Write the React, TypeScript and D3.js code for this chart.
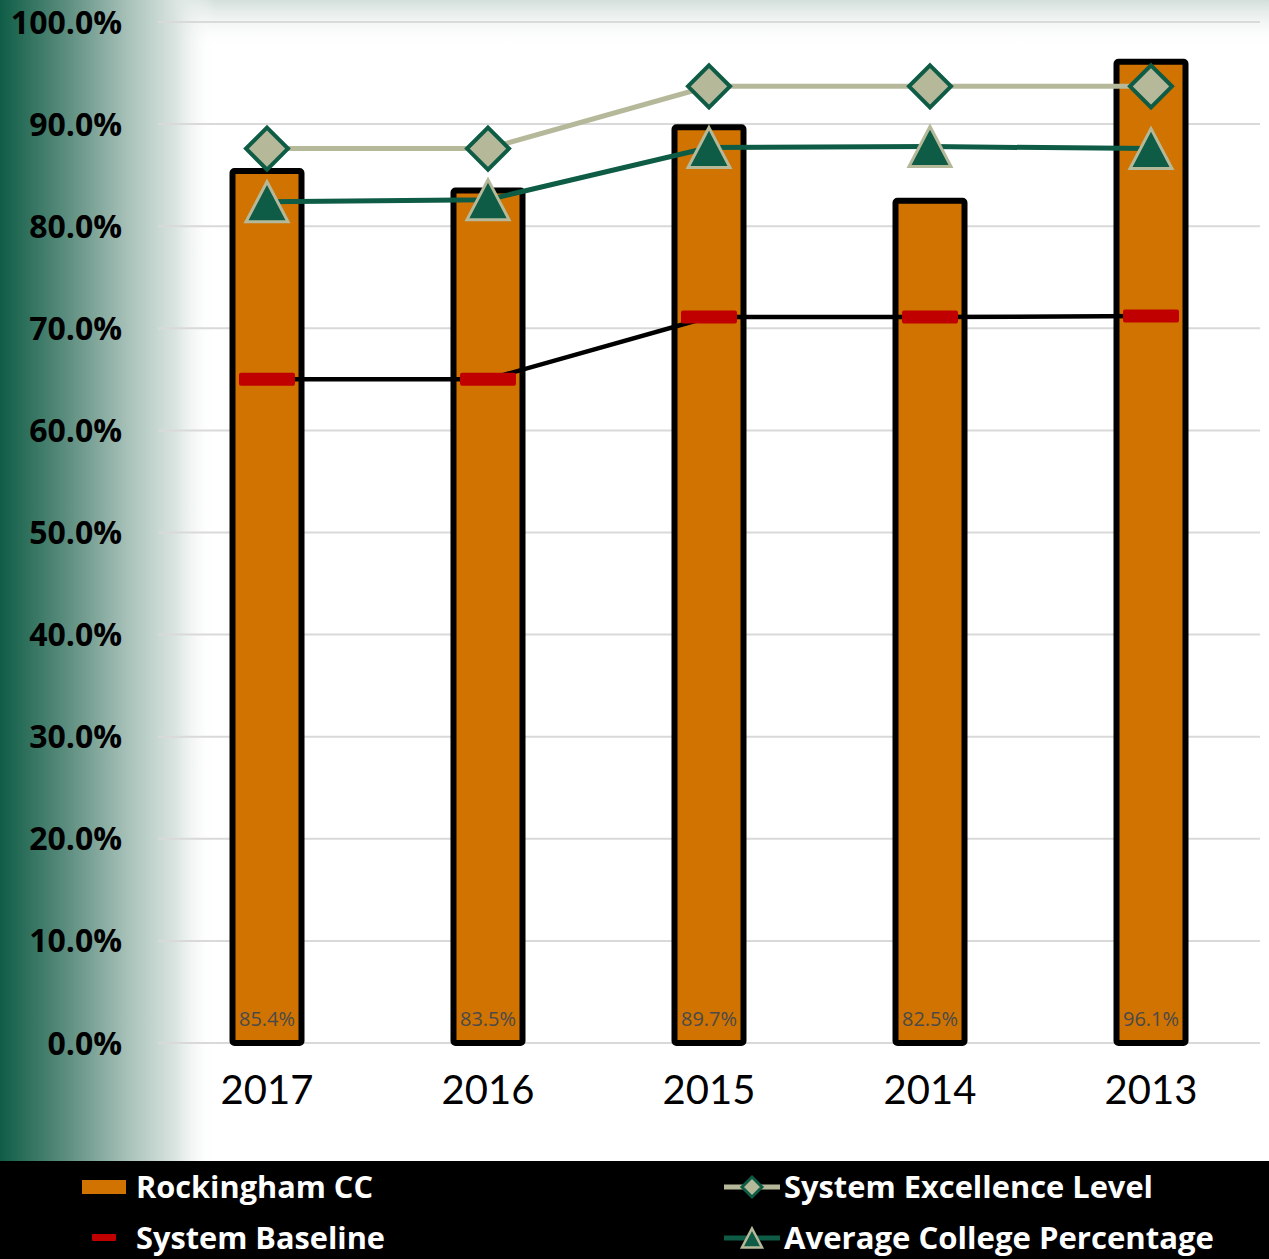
import React from "react";
import * as d3 from "d3";

const years = ["2017", "2016", "2015", "2014", "2013"];
const rockingham = [0.854, 0.835, 0.897, 0.825, 0.961];
const excellence = [0.876, 0.876, 0.937, 0.937, 0.937];
const baseline = [0.65, 0.65, 0.711, 0.711, 0.712];
const average = [0.824, 0.826, 0.877, 0.878, 0.876];
const yTicks = [0, 0.1, 0.2, 0.3, 0.4, 0.5, 0.6, 0.7, 0.8, 0.9, 1.0];

const W = 1269;
const H = 1259;
const GREEN = "#0e5c45";
const SAGE = "#b5b99a";
const ORANGE = "#d07300";
const RED = "#c00000";
const FONT = "'Open Sans', 'Noto Sans', sans-serif";

export default function App() {
  const y = d3.scaleLinear().domain([0, 1]).range([1043, 22]);
  const pi = 1 - 69 / 221;
  const x = d3.scaleBand<string>().domain(years).range([156.5, 1261.5]).paddingInner(pi).paddingOuter(pi / 2);
  const bw = x.bandwidth();
  const cx = (c: string) => (x(c) as number) + bw / 2;
  const fmt = d3.format(".1%");
  const lineGen = (vals: number[]) =>
    d3.line<number>().x((_, i) => cx(years[i])).y((v) => y(v))(vals) as string;

  const diamond = (px: number, py: number, r: number) =>
    `M${px},${py - r}L${px + r},${py}L${px},${py + r}L${px - r},${py}Z`;
  const tri = (px: number, py: number, w: number, h: number) =>
    `M${px},${py - h / 2}L${px + w / 2},${py + h / 2}L${px - w / 2},${py + h / 2}Z`;

  return (
    <svg width={W} height={H} style={{ position: "absolute", left: 0, top: 0, display: "block" }} fontFamily={FONT}>
      <defs>
        <linearGradient id="leftg" x1="0" x2="1" y1="0" y2="0">
          <stop offset="0" stopColor="#0f5d46" />
          <stop offset="0.3" stopColor="#5a8c7d" />
          <stop offset="0.6" stopColor="#a9c2ba" />
          <stop offset="0.82" stopColor="#dbe5e2" />
          <stop offset="1" stopColor="#ffffff" stopOpacity="0" />
        </linearGradient>
        <linearGradient id="topg" x1="0" x2="0" y1="0" y2="1">
          <stop offset="0" stopColor="#d3dfdb" />
          <stop offset="1" stopColor="#ffffff" stopOpacity="0" />
        </linearGradient>
      </defs>
      <rect x={0} y={0} width={W} height={1161} fill="#ffffff" />
      <rect x={0} y={0} width={W} height={48} fill="url(#topg)" />
      <rect x={0} y={0} width={215} height={1161} fill="url(#leftg)" />

      {/* gridlines */}
      {yTicks.map((t) => (
        <line key={t} x1={158} x2={1260} y1={y(t)} y2={y(t)} stroke="#d9d9d9" strokeWidth={2} />
      ))}
      {/* y labels */}
      {yTicks.map((t) => (
        <text key={"l" + t} x={122} y={y(t)} dy="0.36em" textAnchor="end" fontSize={32} fontWeight={700} fill="#000">
          {fmt(t)}
        </text>
      ))}

      {/* bars */}
      {years.map((c, i) => (
        <rect
          key={c}
          x={x(c)}
          y={y(rockingham[i])}
          width={bw}
          height={y(0) - y(rockingham[i])}
          fill={ORANGE}
          stroke="#000"
          strokeWidth={6}
          rx={2}
        />
      ))}
      {/* value labels */}
      {years.map((c, i) => (
        <text key={"v" + c} x={cx(c)} y={1026} textAnchor="middle" fontSize={20} fill="#4a4a4a">
          {fmt(rockingham[i])}
        </text>
      ))}

      {/* excellence line */}
      <path d={lineGen(excellence)} fill="none" stroke={SAGE} strokeWidth={5} />
      {years.map((c, i) => (
        <path key={"e" + c} d={diamond(cx(c), y(excellence[i]), 21)} fill={SAGE} stroke={GREEN} strokeWidth={4} strokeLinejoin="miter" />
      ))}

      {/* baseline */}
      <path d={lineGen(baseline)} fill="none" stroke="#000" strokeWidth={4.5} />
      {years.map((c, i) => (
        <rect key={"b" + c} x={cx(c) - 28} y={y(baseline[i]) - 6.5} width={56} height={13} rx={2} fill={RED} />
      ))}

      {/* average */}
      <path d={lineGen(average)} fill="none" stroke={GREEN} strokeWidth={5} />
      {years.map((c, i) => (
        <path key={"a" + c} d={tri(cx(c), y(average[i]), 42, 40)} fill={GREEN} stroke={SAGE} strokeWidth={3} strokeLinejoin="miter" />
      ))}

      {/* x labels */}
      {years.map((c) => (
        <text key={"x" + c} x={cx(c)} y={1104} textAnchor="middle" fontSize={40} fill="#000" fontFamily="Lato, sans-serif">
          {c}
        </text>
      ))}

      {/* legend */}
      <rect x={0} y={1161} width={W} height={98} fill="#000" />
      <rect x={82} y={1180} width={44} height={14} fill={ORANGE} />
      <text x={136} y={1198} fontSize={30} fontWeight={700} fill="#fff" textLength={237} lengthAdjust="spacingAndGlyphs">
        Rockingham CC
      </text>
      <rect x={92} y={1234} width={24} height={7} rx={1} fill={RED} />
      <text x={136} y={1249} fontSize={30} fontWeight={700} fill="#fff" textLength={249} lengthAdjust="spacingAndGlyphs">
        System Baseline
      </text>

      <line x1={724} x2={780} y1={1187} y2={1187} stroke={SAGE} strokeWidth={5} />
      <path d={diamond(752, 1187, 10)} fill={SAGE} stroke={GREEN} strokeWidth={3} />
      <text x={784} y={1198} fontSize={30} fontWeight={700} fill="#fff" textLength={369} lengthAdjust="spacingAndGlyphs">
        System Excellence Level
      </text>
      <line x1={724} x2={780} y1={1238} y2={1238} stroke={GREEN} strokeWidth={5} />
      <path d={tri(752, 1238, 20, 19)} fill={GREEN} stroke={SAGE} strokeWidth={2.5} />
      <text x={784} y={1249} fontSize={30} fontWeight={700} fill="#fff" textLength={430} lengthAdjust="spacingAndGlyphs">
        Average College Percentage
      </text>
    </svg>
  );
}
